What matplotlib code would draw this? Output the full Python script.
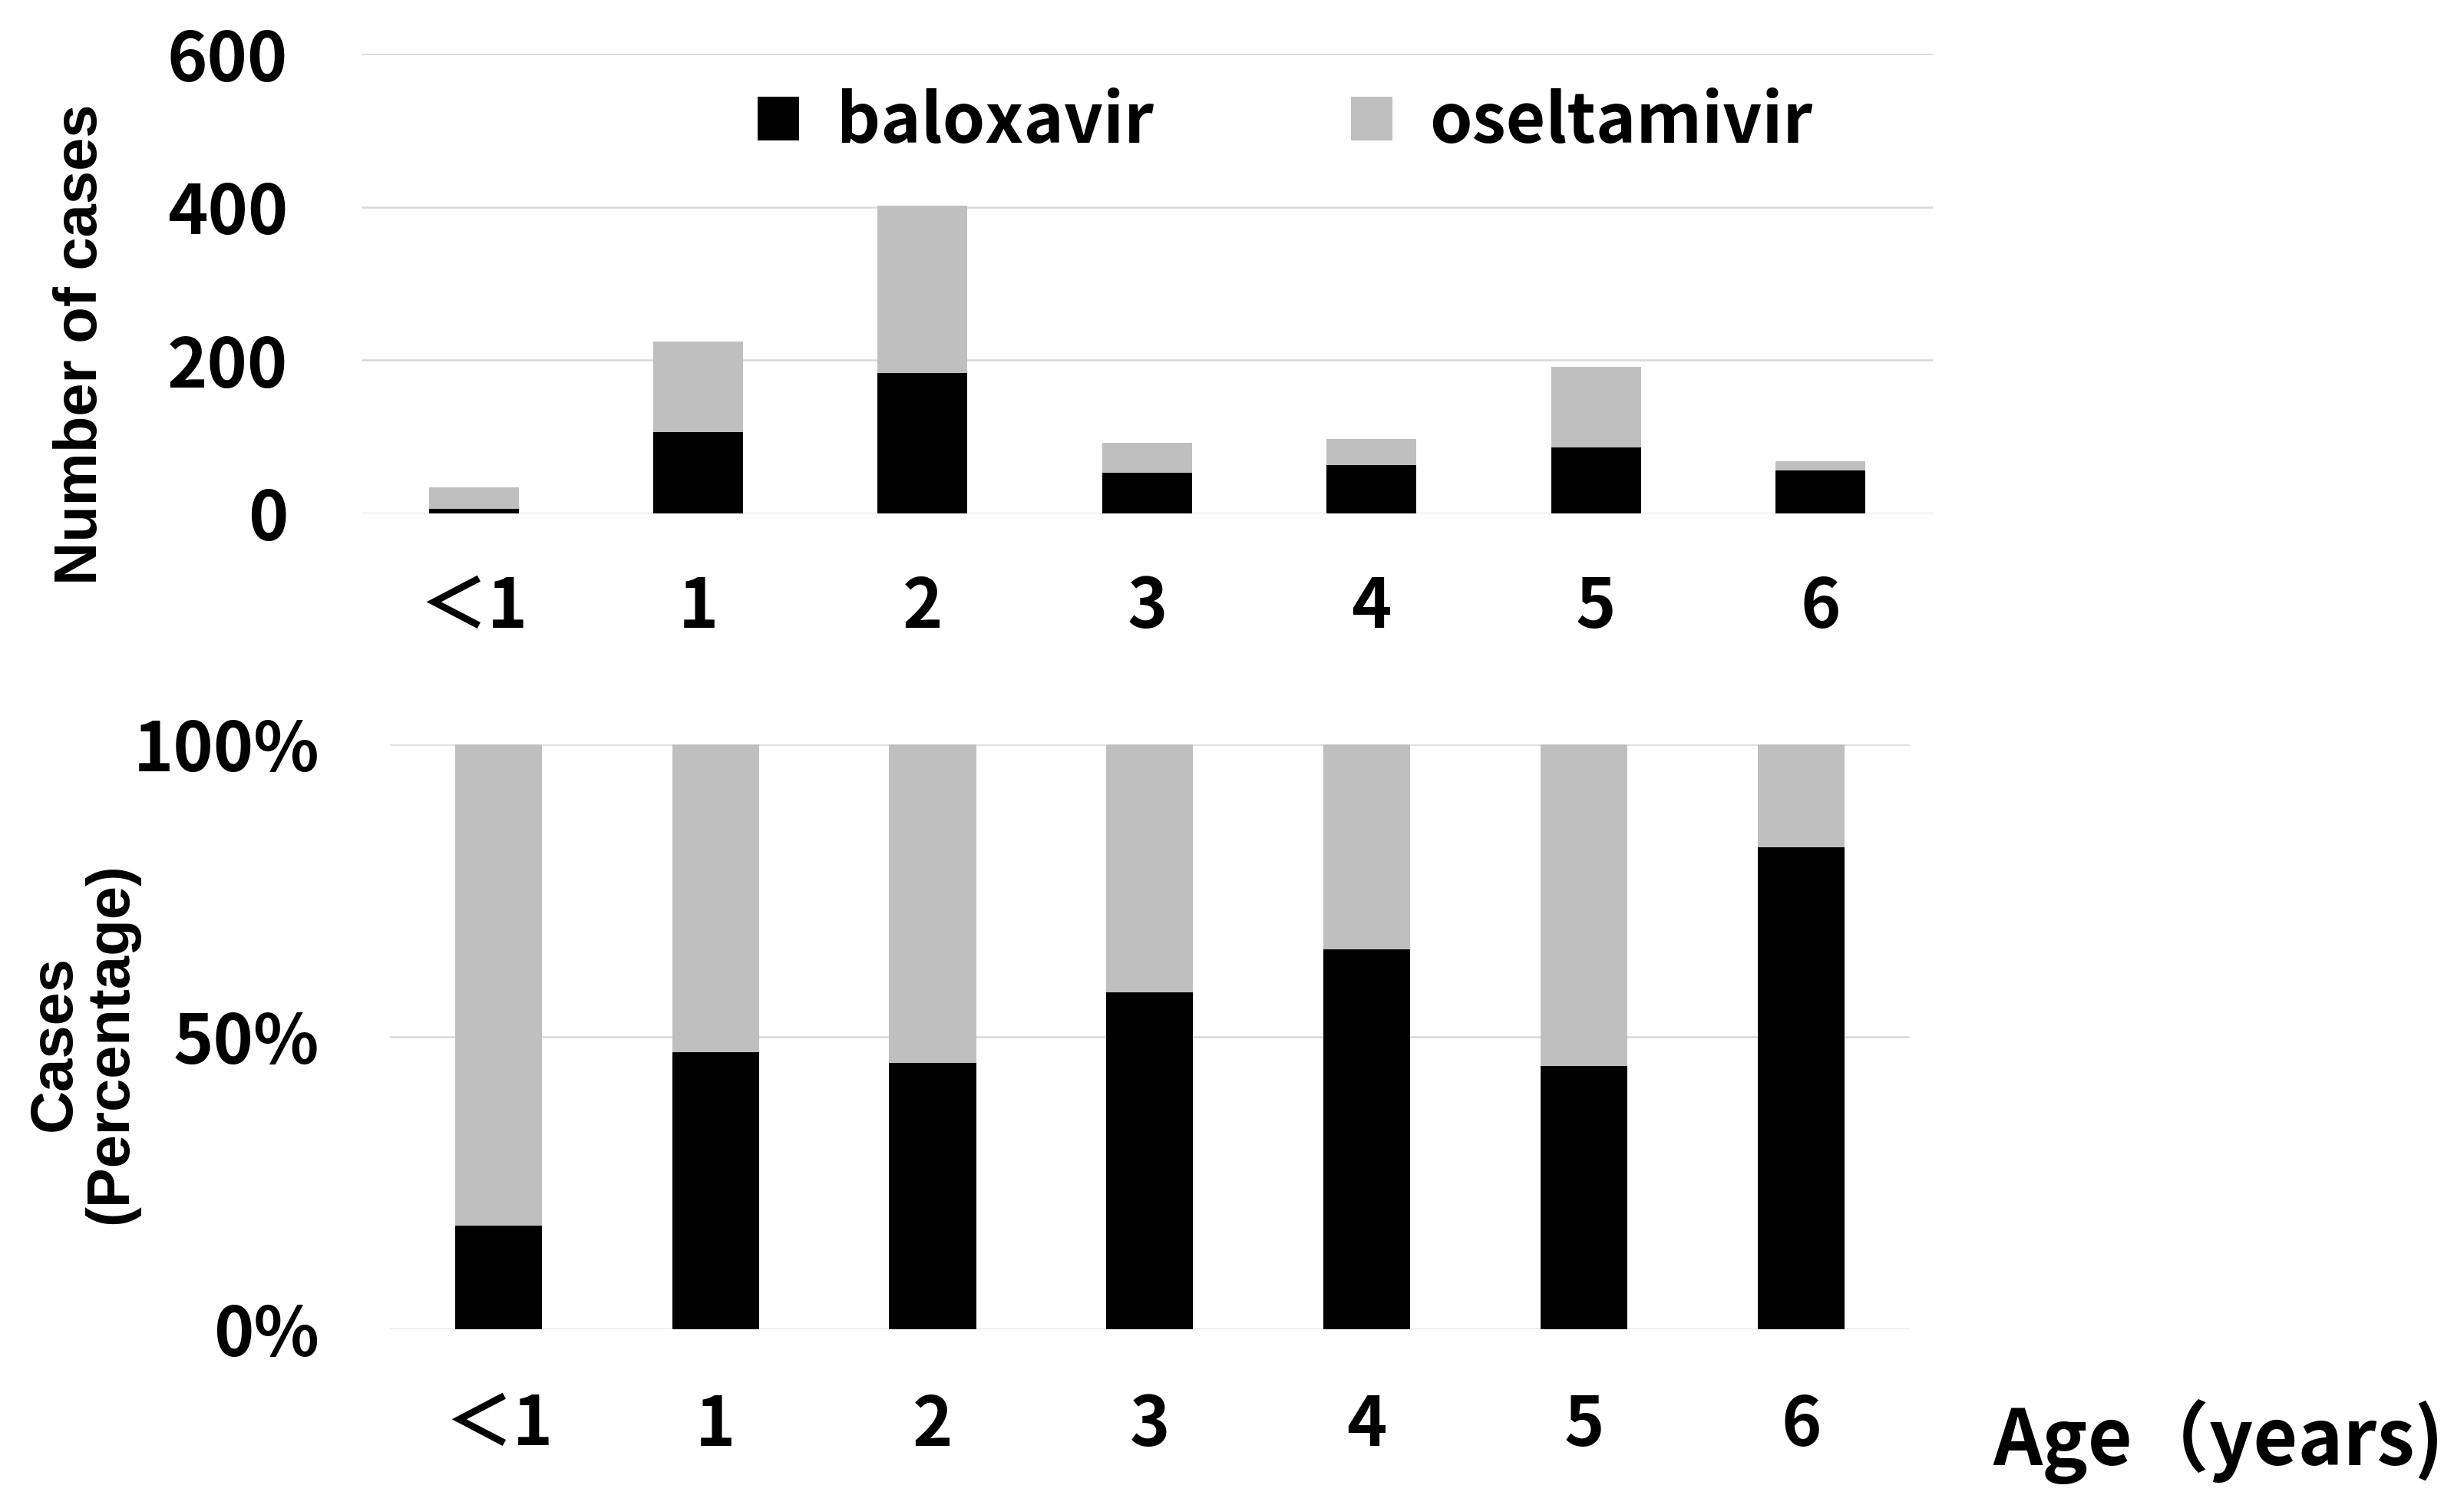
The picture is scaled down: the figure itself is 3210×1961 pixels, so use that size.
import matplotlib.pyplot as plt
import numpy as np

# ages and case counts
ages = ["＜1", "1", "2", "3", "4", "5", "6"]
baloxavir = [6, 106, 183, 53, 63, 86, 56]
oseltamivir = [28, 118, 219, 39, 34, 105, 12]

count_ticks = [0, 200, 400, 600]
pct_ticks = [0, 50, 100]

BLACK = "#000000"
GRAY = "#bfbfbf"
GRID = "#d9d9d9"

plt.rcParams['font.family'] = ['Noto Sans CJK JP', 'DejaVu Sans']
plt.rcParams['font.weight'] = 'bold'

fig = plt.figure(figsize=(16.05, 9.805), dpi=200)
ax_top = fig.add_axes([0.1467, 0.6589, 0.6377, 0.3054])
ax_bot = fig.add_axes([0.1582, 0.1168, 0.6168, 0.3886])

x = np.arange(len(ages))
bal = np.array(baloxavir, dtype=float)
ose = np.array(oseltamivir, dtype=float)

# counts
ax_top.bar(x, bal, width=0.4, color=BLACK, label="baloxavir", zorder=3)
ax_top.bar(x, ose, width=0.4, bottom=bal, color=GRAY, label="oseltamivir", zorder=3)
ax_top.set_ylim(0, 600)
ax_top.set_yticks(count_ticks)

# percentages
total = bal + ose
ax_bot.bar(x, bal / total * 100, width=0.4, color=BLACK, zorder=3)
ax_bot.bar(x, ose / total * 100, width=0.4, bottom=bal / total * 100, color=GRAY, zorder=3)
ax_bot.set_ylim(0, 100)
ax_bot.set_yticks(pct_ticks)
ax_bot.set_yticklabels([f"{t}%" for t in pct_ticks])

for ax, ypad, xpad in [(ax_top, 34.5, 28), (ax_bot, 33, 29)]:
    ax.set_xlim(-0.5, 6.5)
    ax.set_xticks(x)
    ax.set_xticklabels(ages)
    for s in ax.spines.values():
        s.set_visible(False)
    ax.grid(axis="y", color=GRID, linewidth=0.9, zorder=0)
    ax.tick_params(axis="y", length=0, pad=ypad, labelsize=32)
    ax.tick_params(axis="x", length=0, pad=xpad, labelsize=32)

leg = ax_top.legend(loc="center", bbox_to_anchor=(0.588, 0.85), ncol=2, frameon=False,
                    fontsize=32, handlelength=0.6, handleheight=0.6,
                    handletextpad=0.55, columnspacing=2.9)

fig.text(0.033, 0.771, "Number of cases", rotation=90, ha="center", va="center",
         fontsize=28, fontweight="bold", family=["Liberation Sans", "DejaVu Sans"])
fig.text(0.0336, 0.3065, "Cases\n(Percentage)", rotation=90, ha="center", va="center",
         fontsize=28, fontweight="bold", linespacing=1.0,
         family=["Liberation Sans", "DejaVu Sans"])
fig.text(0.809, 0.042, "Age（years)", ha="left", va="center", fontsize=36)

fig.savefig("out.png", dpi=200)
